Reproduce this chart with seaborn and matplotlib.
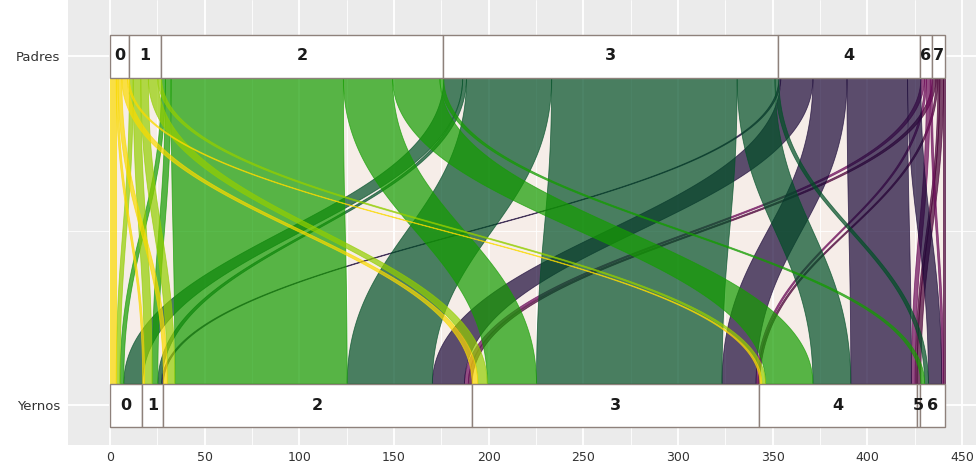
import numpy as np
import matplotlib
matplotlib.use("Agg")
import matplotlib.pyplot as plt
import seaborn as sns
from matplotlib.patches import Rectangle

# ---------------- data ----------------
axis_labels = ["Padres", "Yernos"]
padres_cats = ["0", "1", "2", "3", "4", "6", "7"]
yernos_cats = ["0", "1", "2", "3", "4", "5", "6"]

# flow counts: rows = Padres category, columns = Yernos category (0,1,2,3,4,5,6)
flow_p0 = [3, 1, 2, 3, 1, 0, 0]
flow_p1 = [2, 4, 4, 5, 2, 0, 0]
flow_p2 = [2, 3, 91, 26, 25, 0, 2]
flow_p3 = [10, 2, 45, 98, 20, 0, 2]
flow_p4 = [0, 1, 17, 18, 32, 0, 7]
flow_p6 = [0, 0, 2, 1, 2, 0, 1]
flow_p7 = [0, 0, 2, 1, 1, 2, 1]

padres_colors = ["#FBDA00", "#93CE00", "#149D00", "#004F26", "#1A0838", "#6A0A58", "#480036"]

x_ticks = [0, 50, 100, 150, 200, 250, 300, 350, 400, 450]

flows = np.array([flow_p0, flow_p1, flow_p2, flow_p3, flow_p4, flow_p6, flow_p7])

# ---------------- style ----------------
sns.set_theme(style="darkgrid", rc={
    "axes.facecolor": "#EBEBEB",
    "figure.facecolor": "white",
    "grid.color": "white",
    "axes.edgecolor": "#EBEBEB",
})
plt.rcParams["font.family"] = ["DejaVu Sans"]

fig = plt.figure(figsize=(9.76, 4.63), dpi=100)
ax = fig.add_axes([68 / 976, 18 / 463, (976 - 68) / 976, 445 / 463])

px_per_unit = (962 - 110) / 450.0
ax.set_xlim((68 - 110) / px_per_unit, (976 - 110) / px_per_unit)
ax.set_ylim(1 + 40 / 349, -56 / 349)

hw = 21.5 / 349          # half height of stratum boxes
y_top = 0 + hw           # lower edge of Padres boxes
y_bot = 1 - hw           # upper edge of Yernos boxes
total = flows.sum()

# background band between strata
ax.add_patch(Rectangle((0, y_top), total, y_bot - y_top, facecolor="#F6EDE8",
                       edgecolor="none", zorder=0.3))

# ---------------- lode positions ----------------
p_tot = flows.sum(axis=1)
y_tot = flows.sum(axis=0)
p_start = np.concatenate([[0], np.cumsum(p_tot)[:-1]])
y_start = np.concatenate([[0], np.cumsum(y_tot)[:-1]])

top_pos = {}
for i in range(flows.shape[0]):
    c = p_start[i]
    for j in range(flows.shape[1]):
        top_pos[(i, j)] = (c, c + flows[i, j])
        c += flows[i, j]
bot_pos = {}
for j in range(flows.shape[1]):
    c = y_start[j]
    for i in range(flows.shape[0]):
        bot_pos[(i, j)] = (c, c + flows[i, j])
        c += flows[i, j]

k = 0.45
h = y_bot - y_top
t = np.linspace(0, 1, 200)
yv = ((1 - t) ** 3 * y_top + 3 * (1 - t) ** 2 * t * (y_top + k * h)
      + 3 * (1 - t) * t ** 2 * (y_bot - k * h) + t ** 3 * y_bot)
s = 3 * t ** 2 - 2 * t ** 3

order = []
for i in reversed(range(flows.shape[0])):
    js = sorted(range(flows.shape[1]), key=lambda j: -flows[i, j])
    for j in js:
        if flows[i, j] > 0:
            order.append((i, j))

for (i, j) in order:
    a0, a1 = top_pos[(i, j)]
    b0, b1 = bot_pos[(i, j)]
    xl = a0 + (b0 - a0) * s
    xr = a1 + (b1 - a1) * s
    col = padres_colors[i]
    ax.fill_betweenx(yv, xl, xr, facecolor=col, edgecolor=col, linewidth=0.6,
                     alpha=0.7, zorder=1)

# ---------------- strata ----------------
for ypos, cats, starts, tots in [(0, padres_cats, p_start, p_tot),
                                 (1, yernos_cats, y_start, y_tot)]:
    for cat, st, tt in zip(cats, starts, tots):
        ax.add_patch(Rectangle((st, ypos - hw), tt, 2 * hw, facecolor="white",
                               edgecolor="#8E817B", linewidth=1.0, zorder=3))
        ax.text(st + tt / 2, ypos, cat, ha="center", va="center", fontsize=11.5,
                fontweight="bold", color="#1a1a1a", zorder=4)

# ---------------- axes ----------------
ax.set_xticks(x_ticks)
ax.set_xticks([v + 25 for v in x_ticks[:-1]], minor=True)
ax.set_yticks([0, 1])
ax.set_yticklabels(axis_labels)
ax.set_yticks([0.5], minor=True)
ax.grid(True, which="major", color="white", linewidth=1.3)
ax.grid(True, which="minor", color="white", linewidth=0.6)
ax.set_axisbelow(True)
ax.tick_params(axis="both", which="major", length=3.5, width=1.0, color="#333333",
               labelcolor="#333333", labelsize=9.5)
ax.tick_params(axis="x", which="major", pad=0.8, labelsize=9)
ax.tick_params(axis="y", which="major", pad=2)
ax.tick_params(which="minor", length=0)
for sp in ax.spines.values():
    sp.set_visible(False)

fig.savefig("out.png", dpi=100)
